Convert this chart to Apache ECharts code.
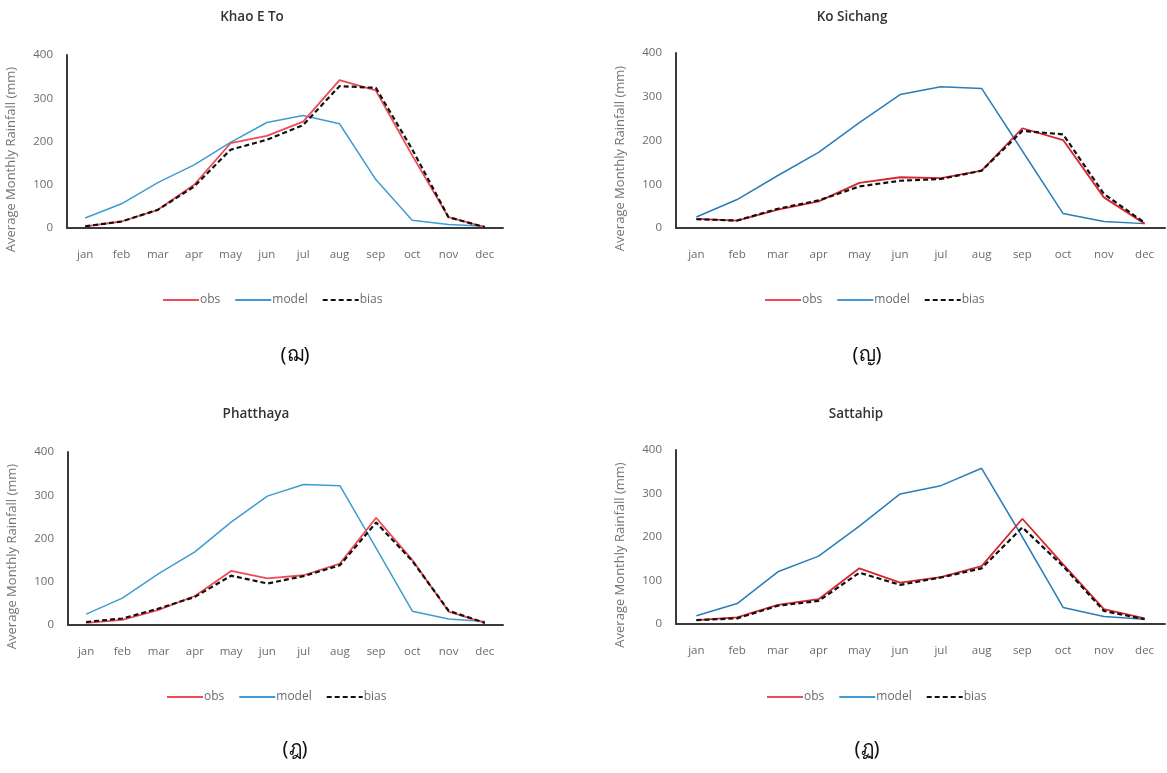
<!DOCTYPE html>
<html>
<head>
<meta charset="utf-8">
<script src="https://cdn.jsdelivr.net/npm/echarts@6/dist/echarts.min.js"></script>
<style>html,body{margin:0;padding:0;background:#fff}#c{width:1167px;height:773px}</style>
</head>
<body>
<div id="c"></div>
<script>
const months = ['jan','feb','mar','apr','may','jun','jul','aug','sep','oct','nov','dec'];
const stations = ['Khao E To','Ko Sichang','Phatthaya','Sattahip'];
const captions = ['(ฌ)','(ญ)','(ฎ)','(ฏ)'];
const yTicks = [0,100,200,300,400];

const obsKhao   = [4,15,42,100,196,213,246,342,318,168,25,2];
const modelKhao = [23,56,105,146,198,244,260,241,112,18,8,4];
const biasKhao  = [4,15,42,96,181,204,238,328,324,182,25,2];

const obsKoSi   = [21,17,42,61,103,116,114,131,228,201,70,10];
const modelKoSi = [25,65,120,173,241,305,323,319,176,33,15,10];
const biasKoSi  = [20,17,44,63,95,108,112,131,222,214,78,12];

const obsPhat   = [5,12,35,67,125,108,115,142,248,150,31,5];
const modelPhat = [25,62,119,169,238,298,325,322,178,32,14,8];
const biasPhat  = [7,15,38,65,114,96,113,138,237,148,33,5];

const obsSatt   = [9,15,44,57,128,95,108,133,242,137,34,13];
const modelSatt = [19,47,120,156,225,299,318,358,200,38,17,11];
const biasSatt  = [9,13,42,53,118,90,107,128,222,133,30,11];

const obsAll = [obsKhao, obsKoSi, obsPhat, obsSatt];
const modelAll = [modelKhao, modelKoSi, modelPhat, modelSatt];
const biasAll = [biasKhao, biasKoSi, biasPhat, biasSatt];

const obsColors = ['#ef4b57','#d7262f','#ef4b57','#d7262f'];
const modelColors = ['#3f9cd1','#2b7db8','#3f9cd1','#2b7db8'];

const grids = [
  {left:67, top:55, width:436, height:173},
  {left:676, top:53, width:489, height:175},
  {left:68, top:452, width:435, height:173},
  {left:676, top:450, width:489, height:174}
];
const titlePos = [
  {x:247, y:5}, {x:847, y:5}, {x:251, y:402}, {x:851, y:402}
];
const legendLeft = [
  {x:157, y:297}, {x:759, y:297}, {x:161, y:694}, {x:761, y:694}
];
const captionPos = [
  {x:290, y:340}, {x:862, y:340}, {x:290, y:734}, {x:862, y:734}
];

const fontFam = '"Open Sans", "Noto Sans", sans-serif';
const axisColor = '#3a3a3a';
const labelColor = '#6b6b6b';

const option = {
  animation:false,
  backgroundColor:'#fff',
  title: [],
  legend: [],
  grid: grids,
  xAxis: [],
  yAxis: [],
  series: []
};

for (let i = 0; i < 4; i++) {
  option.title.push({
    text: stations[i], left: titlePos[i].x, top: titlePos[i].y, textAlign:'center',
    textStyle:{fontFamily:fontFam, fontSize:13.5, fontWeight:'600', color:'#333'}
  });
  option.title.push({
    text: captions[i], left: captionPos[i].x, top: captionPos[i].y, textAlign:'center',
    textStyle:{fontFamily:'"Noto Sans", "DejaVu Sans", sans-serif', fontSize:20, fontWeight:'normal', color:'#111'}
  });
  option.legend.push({
    data:['obs','model','bias'], left: legendLeft[i].x, top: legendLeft[i].y - 8,
    itemWidth:36, itemHeight:14, itemGap:14,
    itemStyle:{opacity:0},
    textStyle:{fontFamily:fontFam, fontSize:12, color:labelColor, padding:[0,0,0,-4]},
    selectedMode:false
  });
  option.xAxis.push({
    type:'category', gridIndex:i, data:months, boundaryGap:true,
    axisLine:{lineStyle:{color:axisColor, width:2}},
    axisTick:{show:false},
    axisLabel:{fontFamily:fontFam, fontSize:11.5, color:labelColor, margin:21},
    splitLine:{show:false}
  });
  option.yAxis.push({
    type:'value', gridIndex:i, min:yTicks[0], max:yTicks[yTicks.length-1], interval:100,
    name:'Average Monthly Rainfall (mm)', nameLocation:'middle', nameGap:49, nameRotate:90,
    nameTextStyle:{fontFamily:fontFam, fontSize:13, color:'#777', padding:[0,0,0,-36]},
    axisLine:{show:true, lineStyle:{color:axisColor, width:2}},
    axisTick:{show:false},
    axisLabel:{fontFamily:fontFam, fontSize:11.5, color:labelColor, margin:14},
    splitLine:{show:false}
  });
  option.series.push({
    name:'obs', type:'line', xAxisIndex:i, yAxisIndex:i, data:obsAll[i], symbol:'none',
    lineStyle:{color:obsColors[i], width:1.8}, itemStyle:{color:obsColors[i]}, z:2
  });
  option.series.push({
    name:'model', type:'line', xAxisIndex:i, yAxisIndex:i, data:modelAll[i], symbol:'none',
    lineStyle:{color:modelColors[i], width:1.5}, itemStyle:{color:modelColors[i]}, z:1
  });
  option.series.push({
    name:'bias', type:'line', xAxisIndex:i, yAxisIndex:i, data:biasAll[i], symbol:'none',
    lineStyle:{color:'#111', width:2.2, type:[5,3]}, itemStyle:{color:'#111'}, z:3
  });
}

const chart = echarts.init(document.getElementById('c'), null, {renderer:'canvas'});
chart.setOption(option);
</script>
</body>
</html>
